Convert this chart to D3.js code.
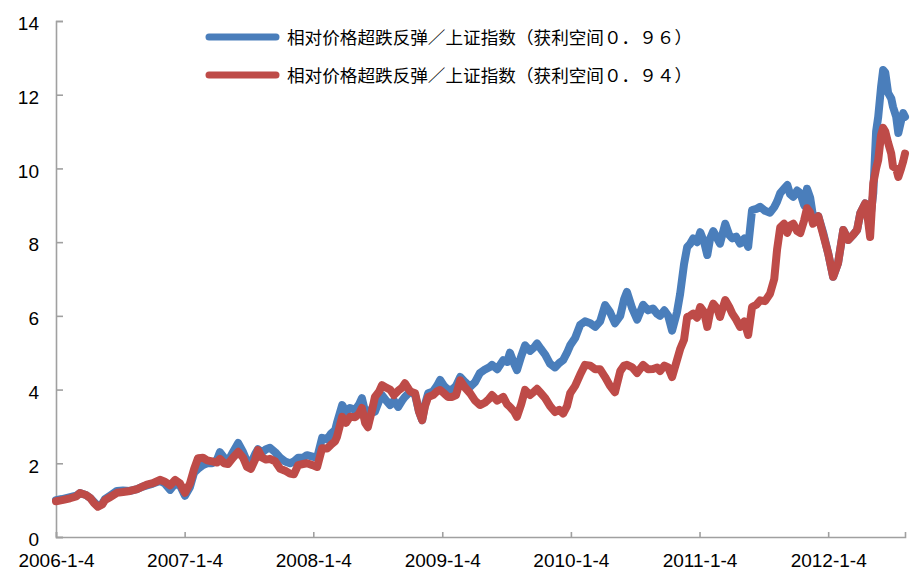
<!DOCTYPE html>
<html>
<head>
<meta charset="utf-8">
<script src="https://cdn.jsdelivr.net/npm/d3@7"></script>
<style>
  html, body { margin: 0; padding: 0; background: #fff; }
  svg { display: block; }
</style>
</head>
<body>
<svg id="chart" width="921" height="585"></svg>
<script>
// ---- data ----
const dates = [
  "2006-01-04","2006-01-21","2006-02-13","2006-03-02","2006-03-13","2006-03-30","2006-04-11","2006-04-22","2006-05-03","2006-05-15",
  "2006-05-23","2006-06-06","2006-06-26","2006-07-13","2006-08-02","2006-08-22","2006-09-05","2006-09-19","2006-10-06","2006-10-26",
  "2006-11-09","2006-11-24","2006-12-08","2006-12-22","2007-01-05","2007-01-19","2007-01-31","2007-02-11","2007-02-25","2007-03-09",
  "2007-03-23","2007-04-06","2007-04-14","2007-04-26","2007-05-07","2007-05-21","2007-06-05","2007-06-19","2007-06-30","2007-07-11",
  "2007-07-23","2007-07-31","2007-08-12","2007-08-23","2007-09-03","2007-09-18","2007-10-02","2007-10-16","2007-10-30","2007-11-10",
  "2007-11-22","2007-12-06","2007-12-17","2008-01-02","2008-01-15","2008-01-29","2008-02-12","2008-02-23","2008-03-06","2008-03-11",
  "2008-03-26","2008-04-06","2008-04-17","2008-05-02","2008-05-13","2008-05-21","2008-05-30","2008-06-07","2008-06-19","2008-06-27",
  "2008-07-09","2008-07-17","2008-07-29","2008-08-09","2008-08-20","2008-09-01","2008-09-12","2008-09-20","2008-10-05","2008-10-19",
  "2008-10-30","2008-11-08","2008-11-16","2008-11-25","2008-12-09","2008-12-20","2008-12-29","2009-01-09","2009-01-20","2009-02-01",
  "2009-02-12","2009-02-24","2009-03-10","2009-03-24","2009-04-07","2009-04-21","2009-05-06","2009-05-17","2009-05-25","2009-06-09",
  "2009-06-26","2009-07-07","2009-07-15","2009-07-27","2009-08-04","2009-08-16","2009-08-27","2009-09-10","2009-09-22","2009-09-30",
  "2009-10-11","2009-10-23","2009-11-06","2009-11-20","2009-12-02","2009-12-13","2009-12-24","2010-01-02","2010-01-16","2010-01-30",
  "2010-02-13","2010-02-28","2010-03-14","2010-03-28","2010-04-11","2010-04-25","2010-05-09","2010-05-24","2010-06-04","2010-06-12",
  "2010-06-27","2010-07-11","2010-07-28","2010-08-11","2010-08-25","2010-09-06","2010-09-14","2010-09-26","2010-10-07","2010-10-18",
  "2010-11-01","2010-11-10","2010-11-21","2010-11-30","2010-12-08","2010-12-17","2010-12-28","2011-01-06","2011-01-17","2011-01-26",
  "2011-02-03","2011-02-12","2011-02-23","2011-03-03","2011-03-18","2011-03-29","2011-04-07","2011-04-18","2011-04-29","2011-05-11",
  "2011-05-22","2011-06-02","2011-06-14","2011-06-25","2011-07-09","2011-07-23","2011-08-04","2011-08-12","2011-08-21","2011-09-01",
  "2011-09-10","2011-09-18","2011-09-27","2011-10-08","2011-10-17","2011-10-28","2011-11-05","2011-11-14","2011-11-22","2011-12-07",
  "2011-12-21","2012-01-04","2012-01-18","2012-02-01","2012-02-16","2012-03-01","2012-03-15","2012-03-26","2012-04-04","2012-04-18",
  "2012-04-26","2012-05-02","2012-05-11","2012-05-19","2012-05-25","2012-06-02","2012-06-08","2012-06-14","2012-06-22","2012-07-01",
  "2012-07-06","2012-07-15","2012-07-21","2012-07-29","2012-08-04","2012-08-09"
];

const seriesBlue = [
  1.00,1.03,1.08,1.12,1.19,1.14,1.06,0.95,0.84,0.90,
  1.03,1.12,1.25,1.26,1.25,1.30,1.36,1.40,1.45,1.52,
  1.45,1.28,1.45,1.40,1.12,1.35,1.75,1.85,1.95,2.00,
  2.00,2.10,2.30,2.15,2.05,2.30,2.55,2.30,2.05,2.00,
  2.25,2.38,2.30,2.38,2.42,2.30,2.15,2.05,2.00,2.05,
  2.15,2.15,2.22,2.18,2.15,2.69,2.65,2.80,2.90,3.09,
  3.58,3.40,3.50,3.45,3.60,3.77,3.40,3.26,3.50,3.40,
  3.70,3.85,3.70,3.58,3.70,3.53,3.70,3.80,3.95,3.85,
  3.40,3.17,3.60,3.90,3.95,4.10,4.26,4.10,4.00,4.00,
  4.10,4.34,4.20,4.07,4.20,4.45,4.55,4.60,4.67,4.55,
  4.80,4.75,5.00,4.70,4.53,4.90,5.20,5.05,5.15,5.25,
  5.10,4.95,4.70,4.60,4.72,4.80,5.00,5.20,5.40,5.75,
  5.85,5.80,5.70,5.85,6.29,6.10,5.80,6.00,6.45,6.65,
  6.20,5.90,6.30,6.15,6.20,6.05,6.00,6.15,6.00,5.60,
  6.10,6.60,7.40,7.87,7.95,8.10,8.00,8.27,8.00,7.65,
  8.10,8.30,8.10,7.96,8.50,8.20,8.10,8.15,7.96,8.10,
  7.87,8.87,8.90,8.96,8.85,8.80,8.95,9.10,9.33,9.45,
  9.55,9.30,9.23,9.40,9.33,9.00,9.45,9.20,8.70,8.70,
  8.25,7.70,7.06,7.43,8.33,8.06,8.20,8.33,8.78,9.05,
  8.80,8.60,9.33,11.00,11.40,12.20,12.67,12.60,12.05,11.90,
  11.67,11.40,10.96,11.30,11.50,11.40
];

const seriesRed = [
  0.97,1.00,1.05,1.10,1.19,1.14,1.06,0.92,0.82,0.88,
  1.00,1.08,1.20,1.22,1.25,1.30,1.36,1.42,1.46,1.55,
  1.50,1.40,1.55,1.45,1.20,1.45,1.85,2.14,2.15,2.08,
  2.05,2.02,2.12,2.00,1.98,2.15,2.31,2.15,1.90,1.85,
  2.10,2.36,2.15,2.10,2.12,2.05,1.85,1.80,1.72,1.70,
  1.95,1.98,2.00,1.95,1.90,2.41,2.40,2.50,2.60,2.71,
  3.26,3.10,3.26,3.25,3.35,3.50,3.10,2.98,3.45,3.80,
  3.95,4.12,4.05,4.00,3.85,3.97,4.05,4.17,3.95,3.90,
  3.40,3.17,3.55,3.80,3.85,3.95,3.99,3.90,3.80,3.80,
  3.85,4.25,4.05,3.90,3.70,3.58,3.65,3.75,3.85,3.70,
  3.80,3.60,3.53,3.40,3.26,3.60,3.99,3.85,3.95,4.02,
  3.90,3.77,3.55,3.39,3.45,3.35,3.55,3.90,4.10,4.40,
  4.67,4.65,4.55,4.55,4.34,4.10,3.93,4.50,4.65,4.67,
  4.60,4.45,4.67,4.55,4.56,4.60,4.50,4.65,4.60,4.34,
  4.80,5.10,5.35,5.97,6.00,6.06,5.95,6.24,6.10,5.70,
  6.10,6.33,6.20,5.97,6.43,6.25,6.06,5.90,5.70,5.85,
  5.48,6.24,6.30,6.42,6.40,6.60,7.00,7.80,8.40,8.50,
  8.25,8.45,8.50,8.30,8.25,8.60,8.92,8.80,8.50,8.70,
  8.20,7.70,7.06,7.43,8.33,8.06,8.20,8.33,8.78,9.05,
  8.60,8.14,9.60,10.00,10.23,10.90,11.10,11.00,10.70,10.40,
  10.05,10.00,9.77,10.00,10.20,10.40
];

const seriesNames = [
  "相对价格超跌反弹／上证指数（获利空间０．９６）",
  "相对价格超跌反弹／上证指数（获利空间０．９４）"
];
const seriesColors = ["#4a7ebb", "#be4b48"];

const xTickDates = ["2006-01-04","2007-01-04","2008-01-04","2009-01-04","2010-01-04","2011-01-04","2012-01-04"];
const xTickLabels = ["2006-1-4","2007-1-4","2008-1-4","2009-1-4","2010-1-4","2011-1-4","2012-1-4"];
const yTicks = [0, 2, 4, 6, 8, 10, 12, 14];
const xDomain = ["2006-01-04", "2012-08-09"];
const yDomain = [0, 14];

// ---- drawing ----
const parse = d3.timeParse("%Y-%m-%d");
const svg = d3.select("#chart");

const x = d3.scaleTime().domain(xDomain.map(parse)).range([56, 905]);
const y = d3.scaleLinear().domain(yDomain).range([537, 21]);

const axisColor = "#a0a0a0";

// y axis
const yAxis = d3.axisLeft(y).tickValues(yTicks).tickSize(-7).tickPadding(17).tickFormat(d3.format("d"));
const gy = svg.append("g").attr("transform", "translate(56,0)").call(yAxis);
gy.select(".domain").attr("stroke", axisColor).attr("stroke-width", 1.6);
gy.selectAll(".tick line").attr("stroke", axisColor).attr("stroke-width", 1.6);
gy.selectAll(".tick text")
  .attr("fill", "#000")
  .attr("font-family", "'Liberation Sans', Arial, sans-serif")
  .attr("font-size", 19)
  .attr("dy", "0.62em")
  .attr("x", -17)
  .attr("transform", "translate(0,-3)");

// x axis
const xAxis = d3.axisBottom(x)
  .tickValues(xTickDates.map(parse))
  .tickSize(-5)
  .tickPadding(24)
  .tickFormat((d, i) => xTickLabels[i]);
const gx = svg.append("g").attr("transform", "translate(0,537)").call(xAxis);
gx.select(".domain").attr("stroke", axisColor).attr("stroke-width", 1.6);
gx.selectAll(".tick line").attr("stroke", axisColor).attr("stroke-width", 1.6);
gx.selectAll(".tick text")
  .attr("fill", "#000")
  .attr("font-family", "'Liberation Sans', Arial, sans-serif")
  .attr("font-size", 19)
  .attr("dy", "0.3em");

// lines
const parsedDates = dates.map(parse);
const line = d3.line()
  .x((d, i) => x(parsedDates[i]))
  .y(d => y(d));

[seriesBlue, seriesRed].forEach((vals, k) => {
  svg.append("path")
    .datum(vals)
    .attr("d", line)
    .attr("fill", "none")
    .attr("stroke", seriesColors[k])
    .attr("stroke-width", 8)
    .attr("stroke-linejoin", "round")
    .attr("stroke-linecap", "round");
});

// legend
const legend = svg.append("g");
seriesNames.forEach((name, k) => {
  const ly = 37 + k * 38;
  legend.append("line")
    .attr("x1", 209).attr("x2", 276)
    .attr("y1", ly).attr("y2", ly)
    .attr("stroke", seriesColors[k])
    .attr("stroke-width", 7)
    .attr("stroke-linecap", "round");
  legend.append("text")
    .attr("x", 287)
    .attr("y", ly + 7)
    .attr("font-family", "'Noto Sans CJK SC', sans-serif")
    .attr("font-size", 17)
    .attr("fill", "#000")
    .attr("textLength", 405)
    .attr("lengthAdjust", "spacingAndGlyphs")
    .text(name);
});
</script>
</body>
</html>
